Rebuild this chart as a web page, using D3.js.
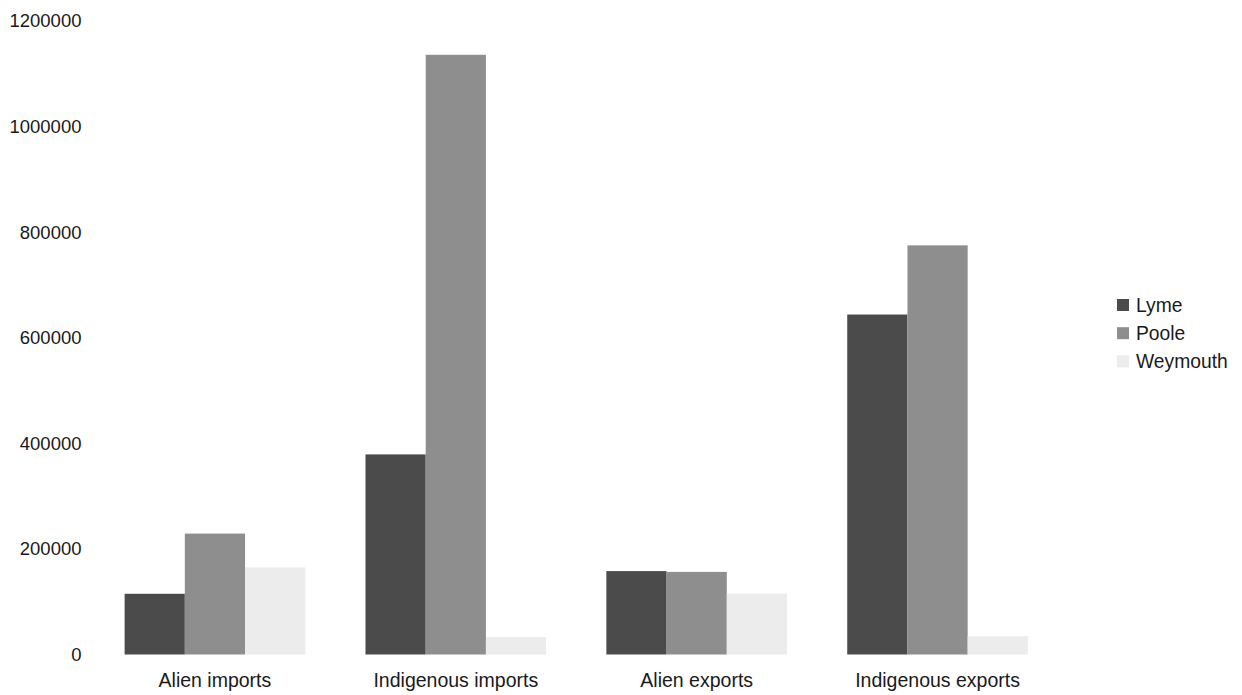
<!DOCTYPE html>
<html>
<head>
<meta charset="utf-8">
<script src="https://cdn.jsdelivr.net/npm/d3@7"></script>
<style>
  html, body { margin: 0; padding: 0; background: #fff; }
  svg { display: block; font-family: "Liberation Sans", Arial, sans-serif; }
</style>
</head>
<body>
<svg id="chart" width="1242" height="695"></svg>
<script>
// Trade values by port
const categories = ["Alien imports", "Indigenous imports", "Alien exports", "Indigenous exports"];
const seriesNames = ["Lyme", "Poole", "Weymouth"];
const lyme     = [115000, 379000, 158000, 644000];
const poole    = [229000, 1136000, 156500, 775000];
const weymouth = [165000, 33000, 115500, 34700];
const yTicks = [0, 200000, 400000, 600000, 800000, 1000000, 1200000];
const colors = ["#4b4b4b", "#8e8e8e", "#ececec"];

const seriesValues = [lyme, poole, weymouth];

const svg = d3.select("#chart");

const y = d3.scaleLinear().domain([0, 1200000]).range([654.5, 21]);
const x0 = d3.scaleBand().domain(categories).range([94.5, 1058]).paddingInner(0).paddingOuter(0);
const x1 = d3.scaleBand().domain(seriesNames)
  .range([x0.bandwidth() * 0.125, x0.bandwidth() * 0.875]);
const color = d3.scaleOrdinal().domain(seriesNames).range(colors);

// Y axis labels (no line, no ticks)
const yAxis = d3.axisLeft(y).tickValues(yTicks).tickSize(0).tickPadding(0)
  .tickFormat(d3.format("d"));
const yg = svg.append("g").attr("transform", "translate(81.5,0)").call(yAxis);
yg.select(".domain").remove();
yg.selectAll("text")
  .attr("font-family", "Liberation Sans, Arial, sans-serif")
  .attr("font-size", 18.5)
  .attr("fill", "#1a1a1a");

// Bars
const groups = svg.append("g").selectAll("g")
  .data(categories)
  .join("g")
  .attr("transform", d => `translate(${x0(d)},0)`);

groups.selectAll("rect")
  .data((c, i) => seriesNames.map((s, j) => ({ series: s, value: seriesValues[j][i] })))
  .join("rect")
  .attr("x", d => x1(d.series))
  .attr("width", x1.bandwidth())
  .attr("y", d => y(d.value))
  .attr("height", d => y(0) - y(d.value))
  .attr("fill", d => color(d.series));

// Category axis labels
const xAxis = d3.axisBottom(x0).tickSize(0).tickPadding(0);
const xg = svg.append("g").attr("transform", "translate(0,673)").call(xAxis);
xg.select(".domain").remove();
xg.selectAll("text")
  .attr("dy", "0.71em")
  .attr("font-family", "Liberation Sans, Arial, sans-serif")
  .attr("font-size", 19.5)
  .attr("fill", "#1a1a1a");

// Legend
const legend = svg.append("g").attr("transform", "translate(1117,305)");
const items = legend.selectAll("g")
  .data(seriesNames)
  .join("g")
  .attr("transform", (d, i) => `translate(0,${i * 28.2})`);
items.append("rect")
  .attr("x", 0).attr("y", -6)
  .attr("width", 12).attr("height", 12)
  .attr("fill", d => color(d));
items.append("text")
  .attr("x", 19).attr("y", 0).attr("dy", "0.35em")
  .attr("font-size", 19.3)
  .attr("fill", "#1a1a1a")
  .text(d => d);
</script>
</body>
</html>
